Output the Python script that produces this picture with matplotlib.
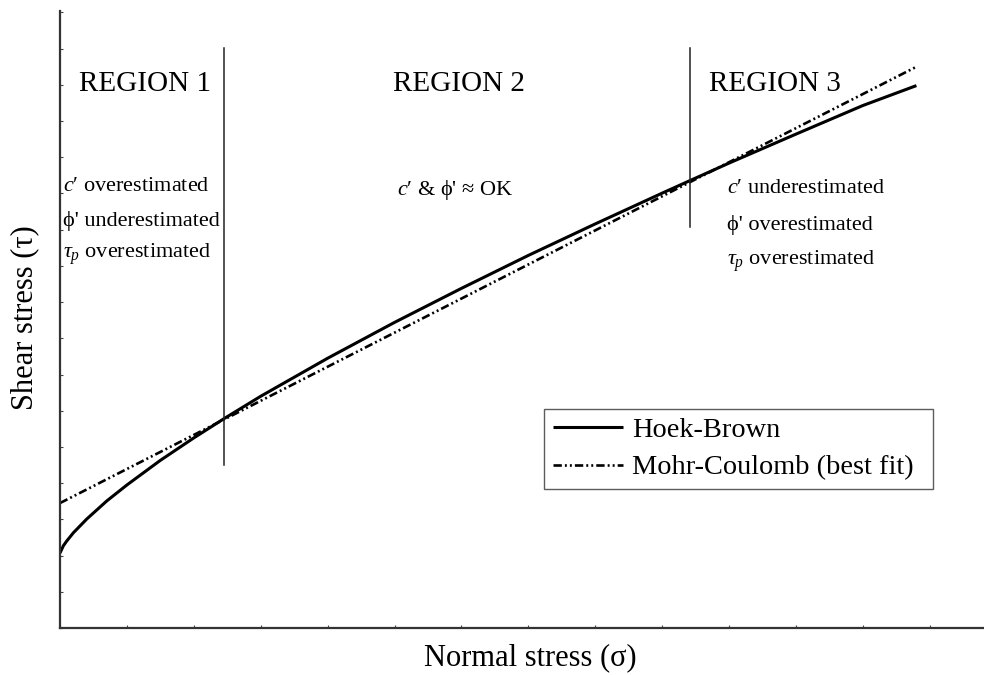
import matplotlib
matplotlib.use("Agg")
import matplotlib.pyplot as plt

plt.rcParams["font.family"] = ["Liberation Serif", "DejaVu Serif"]
plt.rcParams["mathtext.fontset"] = "custom"
plt.rcParams["mathtext.rm"] = "Liberation Serif"
plt.rcParams["mathtext.it"] = "Liberation Serif:italic"
plt.rcParams["lines.scale_dashes"] = False

# Normal stress (arbitrary units) and the Hoek-Brown envelope
sigma_hb = [0, 0.05, 0.1, 0.2, 0.4, 0.7, 1.0, 1.5, 2.0, 2.45, 3, 4, 5, 6,
            7, 8, 9, 9.42, 10, 11, 12, 12.8]
tau_hb = [2.07, 2.27, 2.40, 2.63, 3.01, 3.51, 3.95, 4.63, 5.25, 5.78, 6.40,
          7.45, 8.44, 9.38, 10.29, 11.16, 12.01, 12.36, 12.84, 13.64, 14.43,
          14.98]

# Best-fit Mohr-Coulomb line
sigma_mc = [0, 12.8]
tau_mc = [3.45, 15.50]

# Region boundaries (where the two envelopes cross)
boundary_sigma = [2.45, 9.42]
boundary_bottom = [4.50, 11.08]
boundary_top = 16.02

region_names = ["REGION 1", "REGION 2", "REGION 3"]
region_x = [1.27, 5.96, 10.69]

fig = plt.figure(figsize=(9.84, 6.75), dpi=100)
ax = fig.add_axes([60 / 984, 47 / 675, 924 / 984, 617 / 675])

ax.plot(sigma_hb, tau_hb, color="black", lw=2.2, solid_capstyle="butt",
        label="Hoek-Brown")
ax.plot(sigma_mc, tau_mc, color="black", lw=1.9,
        linestyle=(0, (6, 2.2, 1.4, 2.2, 1.4, 2.2)),
        label="Mohr-Coulomb (best fit)")

for s, b in zip(boundary_sigma, boundary_bottom):
    ax.plot([s, s], [b, boundary_top], color="#222222", lw=1.1)

for name, x in zip(region_names, region_x):
    ax.text(x, 14.83, name, ha="center", va="baseline", fontsize=21)

fs_note = 16
ax.text(0.045, 12.07, "$c$′ overestimated", fontsize=fs_note, va="baseline")
ax.text(0.045, 11.10, "ϕ' underestimated", fontsize=fs_note, va="baseline")
ax.text(0.045, 10.22, r"$\tau_p$ overestimated", fontsize=fs_note,
        va="baseline")

ax.text(5.90, 11.96, "$c$′ & ϕ' ≈ OK", fontsize=fs_note, ha="center",
        va="baseline")

ax.text(9.97, 12.02, "$c$′ underestimated", fontsize=fs_note, va="baseline")
ax.text(9.97, 10.99, "ϕ' overestimated", fontsize=fs_note, va="baseline")
ax.text(9.97, 10.03, r"$\tau_p$ overestimated", fontsize=fs_note,
        va="baseline")

ax.set_xlim(0, 13.81)
ax.set_ylim(0, 17.04)
ax.set_xticks(range(0, 14))
ax.set_yticks(range(0, 18))
ax.tick_params(direction="in", length=2.5, width=0.8, color="#444444",
               labelbottom=False, labelleft=False)
for side in ("top", "right"):
    ax.spines[side].set_visible(False)
for side in ("left", "bottom"):
    ax.spines[side].set_linewidth(1.6)
    ax.spines[side].set_color("#333333")

leg = ax.legend(loc="upper left",
                bbox_to_anchor=(544 / 984, 1 - 487 / 675, 389 / 984, 78 / 675),
                bbox_transform=fig.transFigure, mode="expand",
                fontsize=20.4, frameon=True, fancybox=False,
                edgecolor="#333333", borderpad=0.3, labelspacing=0.4,
                handlelength=2.5, handletextpad=0.3, borderaxespad=0)
leg.get_frame().set_linewidth(1.0)

fig.text(530 / 984, 1 - 665 / 675, "Normal stress (σ)", ha="center",
         va="baseline", fontsize=22)
fig.text(25 / 984, 1 - 318 / 675, "Shear stress (τ)", ha="center",
         va="center", rotation=90, fontsize=22)

fig.savefig("out.png", dpi=100)
